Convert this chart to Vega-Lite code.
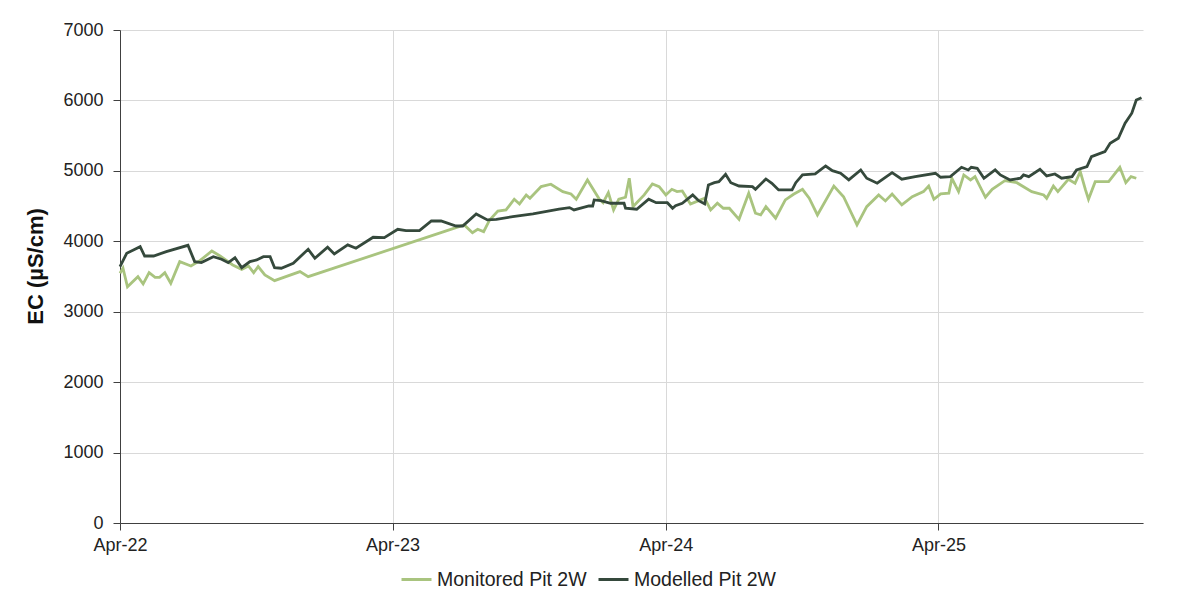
{
  "$schema": "https://vega.github.io/schema/vega-lite/v6.json",
  "width": 1023,
  "height": 493,
  "autosize": {"type": "none"},
  "padding": {"left": 120, "top": 30, "right": 35, "bottom": 78},
  "background": "white",
  "config": {
    "view": {"stroke": null},
    "font": "Liberation Sans",
    "axis": {
      "labelFont": "Liberation Sans",
      "labelFontSize": 18,
      "labelColor": "#222222",
      "domainColor": "#404040",
      "tickColor": "#404040",
      "tickSize": 7,
      "gridColor": "#d9d9d9",
      "gridWidth": 1
    },
    "legend": {
      "labelFont": "Liberation Sans",
      "labelFontSize": 19.5,
      "labelColor": "#222222"
    }
  },
  "data": {
    "values": [
      {"date": "2022-04-01", "series": "Monitored Pit 2W", "ec": 3546},
      {"date": "2022-04-05", "series": "Monitored Pit 2W", "ec": 3617},
      {"date": "2022-04-11", "series": "Monitored Pit 2W", "ec": 3355},
      {"date": "2022-04-25", "series": "Monitored Pit 2W", "ec": 3498},
      {"date": "2022-05-02", "series": "Monitored Pit 2W", "ec": 3394},
      {"date": "2022-05-10", "series": "Monitored Pit 2W", "ec": 3554},
      {"date": "2022-05-18", "series": "Monitored Pit 2W", "ec": 3489},
      {"date": "2022-05-24", "series": "Monitored Pit 2W", "ec": 3489},
      {"date": "2022-05-31", "series": "Monitored Pit 2W", "ec": 3554},
      {"date": "2022-06-08", "series": "Monitored Pit 2W", "ec": 3404},
      {"date": "2022-06-20", "series": "Monitored Pit 2W", "ec": 3711},
      {"date": "2022-07-05", "series": "Monitored Pit 2W", "ec": 3650},
      {"date": "2022-07-17", "series": "Monitored Pit 2W", "ec": 3725},
      {"date": "2022-08-02", "series": "Monitored Pit 2W", "ec": 3862},
      {"date": "2022-08-13", "series": "Monitored Pit 2W", "ec": 3791},
      {"date": "2022-08-30", "series": "Monitored Pit 2W", "ec": 3664},
      {"date": "2022-09-11", "series": "Monitored Pit 2W", "ec": 3602},
      {"date": "2022-09-20", "series": "Monitored Pit 2W", "ec": 3650},
      {"date": "2022-09-27", "series": "Monitored Pit 2W", "ec": 3554},
      {"date": "2022-10-03", "series": "Monitored Pit 2W", "ec": 3640},
      {"date": "2022-10-12", "series": "Monitored Pit 2W", "ec": 3522},
      {"date": "2022-10-25", "series": "Monitored Pit 2W", "ec": 3441},
      {"date": "2022-11-28", "series": "Monitored Pit 2W", "ec": 3569},
      {"date": "2022-12-09", "series": "Monitored Pit 2W", "ec": 3498},
      {"date": "2023-07-06", "series": "Monitored Pit 2W", "ec": 4232},
      {"date": "2023-07-17", "series": "Monitored Pit 2W", "ec": 4122},
      {"date": "2023-07-24", "series": "Monitored Pit 2W", "ec": 4170},
      {"date": "2023-08-01", "series": "Monitored Pit 2W", "ec": 4137},
      {"date": "2023-08-09", "series": "Monitored Pit 2W", "ec": 4303},
      {"date": "2023-08-20", "series": "Monitored Pit 2W", "ec": 4430},
      {"date": "2023-08-31", "series": "Monitored Pit 2W", "ec": 4445},
      {"date": "2023-09-11", "series": "Monitored Pit 2W", "ec": 4597},
      {"date": "2023-09-18", "series": "Monitored Pit 2W", "ec": 4530},
      {"date": "2023-09-27", "series": "Monitored Pit 2W", "ec": 4658},
      {"date": "2023-10-02", "series": "Monitored Pit 2W", "ec": 4611},
      {"date": "2023-10-17", "series": "Monitored Pit 2W", "ec": 4776},
      {"date": "2023-10-30", "series": "Monitored Pit 2W", "ec": 4810},
      {"date": "2023-11-15", "series": "Monitored Pit 2W", "ec": 4705},
      {"date": "2023-11-26", "series": "Monitored Pit 2W", "ec": 4672},
      {"date": "2023-12-03", "series": "Monitored Pit 2W", "ec": 4597},
      {"date": "2023-12-18", "series": "Monitored Pit 2W", "ec": 4871},
      {"date": "2024-01-03", "series": "Monitored Pit 2W", "ec": 4597},
      {"date": "2024-01-08", "series": "Monitored Pit 2W", "ec": 4548},
      {"date": "2024-01-15", "series": "Monitored Pit 2W", "ec": 4690},
      {"date": "2024-01-22", "series": "Monitored Pit 2W", "ec": 4445},
      {"date": "2024-01-29", "series": "Monitored Pit 2W", "ec": 4597},
      {"date": "2024-02-07", "series": "Monitored Pit 2W", "ec": 4625},
      {"date": "2024-02-12", "series": "Monitored Pit 2W", "ec": 4895},
      {"date": "2024-02-17", "series": "Monitored Pit 2W", "ec": 4492},
      {"date": "2024-02-22", "series": "Monitored Pit 2W", "ec": 4548},
      {"date": "2024-03-03", "series": "Monitored Pit 2W", "ec": 4658},
      {"date": "2024-03-14", "series": "Monitored Pit 2W", "ec": 4814},
      {"date": "2024-03-23", "series": "Monitored Pit 2W", "ec": 4776},
      {"date": "2024-04-01", "series": "Monitored Pit 2W", "ec": 4658},
      {"date": "2024-04-09", "series": "Monitored Pit 2W", "ec": 4738},
      {"date": "2024-04-16", "series": "Monitored Pit 2W", "ec": 4705},
      {"date": "2024-04-23", "series": "Monitored Pit 2W", "ec": 4715},
      {"date": "2024-05-04", "series": "Monitored Pit 2W", "ec": 4530},
      {"date": "2024-05-15", "series": "Monitored Pit 2W", "ec": 4577},
      {"date": "2024-05-23", "series": "Monitored Pit 2W", "ec": 4611},
      {"date": "2024-05-31", "series": "Monitored Pit 2W", "ec": 4445},
      {"date": "2024-06-09", "series": "Monitored Pit 2W", "ec": 4540},
      {"date": "2024-06-17", "series": "Monitored Pit 2W", "ec": 4469},
      {"date": "2024-06-25", "series": "Monitored Pit 2W", "ec": 4469},
      {"date": "2024-07-08", "series": "Monitored Pit 2W", "ec": 4312},
      {"date": "2024-07-21", "series": "Monitored Pit 2W", "ec": 4682},
      {"date": "2024-07-30", "series": "Monitored Pit 2W", "ec": 4398},
      {"date": "2024-08-06", "series": "Monitored Pit 2W", "ec": 4374},
      {"date": "2024-08-13", "series": "Monitored Pit 2W", "ec": 4492},
      {"date": "2024-08-26", "series": "Monitored Pit 2W", "ec": 4327},
      {"date": "2024-09-08", "series": "Monitored Pit 2W", "ec": 4587},
      {"date": "2024-09-19", "series": "Monitored Pit 2W", "ec": 4668},
      {"date": "2024-10-01", "series": "Monitored Pit 2W", "ec": 4738},
      {"date": "2024-10-10", "series": "Monitored Pit 2W", "ec": 4611},
      {"date": "2024-10-21", "series": "Monitored Pit 2W", "ec": 4374},
      {"date": "2024-11-12", "series": "Monitored Pit 2W", "ec": 4785},
      {"date": "2024-11-25", "series": "Monitored Pit 2W", "ec": 4633},
      {"date": "2024-12-13", "series": "Monitored Pit 2W", "ec": 4232},
      {"date": "2024-12-26", "series": "Monitored Pit 2W", "ec": 4492},
      {"date": "2025-01-11", "series": "Monitored Pit 2W", "ec": 4658},
      {"date": "2025-01-20", "series": "Monitored Pit 2W", "ec": 4573},
      {"date": "2025-01-29", "series": "Monitored Pit 2W", "ec": 4672},
      {"date": "2025-02-11", "series": "Monitored Pit 2W", "ec": 4516},
      {"date": "2025-02-25", "series": "Monitored Pit 2W", "ec": 4633},
      {"date": "2025-03-12", "series": "Monitored Pit 2W", "ec": 4705},
      {"date": "2025-03-19", "series": "Monitored Pit 2W", "ec": 4785},
      {"date": "2025-03-26", "series": "Monitored Pit 2W", "ec": 4597},
      {"date": "2025-04-04", "series": "Monitored Pit 2W", "ec": 4672},
      {"date": "2025-04-15", "series": "Monitored Pit 2W", "ec": 4682},
      {"date": "2025-04-19", "series": "Monitored Pit 2W", "ec": 4895},
      {"date": "2025-04-28", "series": "Monitored Pit 2W", "ec": 4705},
      {"date": "2025-05-05", "series": "Monitored Pit 2W", "ec": 4942},
      {"date": "2025-05-14", "series": "Monitored Pit 2W", "ec": 4871},
      {"date": "2025-05-20", "series": "Monitored Pit 2W", "ec": 4918},
      {"date": "2025-06-03", "series": "Monitored Pit 2W", "ec": 4625},
      {"date": "2025-06-12", "series": "Monitored Pit 2W", "ec": 4738},
      {"date": "2025-06-29", "series": "Monitored Pit 2W", "ec": 4861},
      {"date": "2025-07-15", "series": "Monitored Pit 2W", "ec": 4832},
      {"date": "2025-08-04", "series": "Monitored Pit 2W", "ec": 4705},
      {"date": "2025-08-20", "series": "Monitored Pit 2W", "ec": 4658},
      {"date": "2025-08-24", "series": "Monitored Pit 2W", "ec": 4611},
      {"date": "2025-09-02", "series": "Monitored Pit 2W", "ec": 4785},
      {"date": "2025-09-08", "series": "Monitored Pit 2W", "ec": 4705},
      {"date": "2025-09-22", "series": "Monitored Pit 2W", "ec": 4881},
      {"date": "2025-10-01", "series": "Monitored Pit 2W", "ec": 4824},
      {"date": "2025-10-08", "series": "Monitored Pit 2W", "ec": 4989},
      {"date": "2025-10-15", "series": "Monitored Pit 2W", "ec": 4729},
      {"date": "2025-10-19", "series": "Monitored Pit 2W", "ec": 4597},
      {"date": "2025-10-28", "series": "Monitored Pit 2W", "ec": 4847},
      {"date": "2025-11-15", "series": "Monitored Pit 2W", "ec": 4847},
      {"date": "2025-11-30", "series": "Monitored Pit 2W", "ec": 5051},
      {"date": "2025-12-08", "series": "Monitored Pit 2W", "ec": 4832},
      {"date": "2025-12-15", "series": "Monitored Pit 2W", "ec": 4918},
      {"date": "2025-12-22", "series": "Monitored Pit 2W", "ec": 4895},

      {"date": "2022-04-01", "series": "Modelled Pit 2W", "ec": 3640},
      {"date": "2022-04-10", "series": "Modelled Pit 2W", "ec": 3830},
      {"date": "2022-04-21", "series": "Modelled Pit 2W", "ec": 3887},
      {"date": "2022-04-28", "series": "Modelled Pit 2W", "ec": 3924},
      {"date": "2022-05-04", "series": "Modelled Pit 2W", "ec": 3791},
      {"date": "2022-05-16", "series": "Modelled Pit 2W", "ec": 3791},
      {"date": "2022-06-02", "series": "Modelled Pit 2W", "ec": 3853},
      {"date": "2022-07-01", "series": "Modelled Pit 2W", "ec": 3943},
      {"date": "2022-07-10", "series": "Modelled Pit 2W", "ec": 3711},
      {"date": "2022-07-19", "series": "Modelled Pit 2W", "ec": 3697},
      {"date": "2022-08-04", "series": "Modelled Pit 2W", "ec": 3782},
      {"date": "2022-08-15", "series": "Modelled Pit 2W", "ec": 3745},
      {"date": "2022-08-24", "series": "Modelled Pit 2W", "ec": 3697},
      {"date": "2022-09-02", "series": "Modelled Pit 2W", "ec": 3767},
      {"date": "2022-09-11", "series": "Modelled Pit 2W", "ec": 3625},
      {"date": "2022-09-22", "series": "Modelled Pit 2W", "ec": 3711},
      {"date": "2022-10-01", "series": "Modelled Pit 2W", "ec": 3735},
      {"date": "2022-10-10", "series": "Modelled Pit 2W", "ec": 3782},
      {"date": "2022-10-19", "series": "Modelled Pit 2W", "ec": 3782},
      {"date": "2022-10-25", "series": "Modelled Pit 2W", "ec": 3625},
      {"date": "2022-11-03", "series": "Modelled Pit 2W", "ec": 3617},
      {"date": "2022-11-19", "series": "Modelled Pit 2W", "ec": 3688},
      {"date": "2022-12-09", "series": "Modelled Pit 2W", "ec": 3887},
      {"date": "2022-12-18", "series": "Modelled Pit 2W", "ec": 3759},
      {"date": "2023-01-04", "series": "Modelled Pit 2W", "ec": 3915},
      {"date": "2023-01-13", "series": "Modelled Pit 2W", "ec": 3820},
      {"date": "2023-01-31", "series": "Modelled Pit 2W", "ec": 3948},
      {"date": "2023-02-11", "series": "Modelled Pit 2W", "ec": 3901},
      {"date": "2023-03-06", "series": "Modelled Pit 2W", "ec": 4057},
      {"date": "2023-03-21", "series": "Modelled Pit 2W", "ec": 4051},
      {"date": "2023-04-08", "series": "Modelled Pit 2W", "ec": 4170},
      {"date": "2023-04-19", "series": "Modelled Pit 2W", "ec": 4151},
      {"date": "2023-05-07", "series": "Modelled Pit 2W", "ec": 4151},
      {"date": "2023-05-23", "series": "Modelled Pit 2W", "ec": 4288},
      {"date": "2023-06-05", "series": "Modelled Pit 2W", "ec": 4288},
      {"date": "2023-06-25", "series": "Modelled Pit 2W", "ec": 4217},
      {"date": "2023-07-04", "series": "Modelled Pit 2W", "ec": 4217},
      {"date": "2023-07-22", "series": "Modelled Pit 2W", "ec": 4388},
      {"date": "2023-08-06", "series": "Modelled Pit 2W", "ec": 4303},
      {"date": "2023-08-18", "series": "Modelled Pit 2W", "ec": 4312},
      {"date": "2023-09-09", "series": "Modelled Pit 2W", "ec": 4350},
      {"date": "2023-10-06", "series": "Modelled Pit 2W", "ec": 4388},
      {"date": "2023-11-10", "series": "Modelled Pit 2W", "ec": 4455},
      {"date": "2023-11-24", "series": "Modelled Pit 2W", "ec": 4478},
      {"date": "2023-11-30", "series": "Modelled Pit 2W", "ec": 4445},
      {"date": "2023-12-20", "series": "Modelled Pit 2W", "ec": 4501},
      {"date": "2023-12-25", "series": "Modelled Pit 2W", "ec": 4501},
      {"date": "2023-12-27", "series": "Modelled Pit 2W", "ec": 4587},
      {"date": "2024-01-05", "series": "Modelled Pit 2W", "ec": 4577},
      {"date": "2024-01-18", "series": "Modelled Pit 2W", "ec": 4540},
      {"date": "2024-02-05", "series": "Modelled Pit 2W", "ec": 4540},
      {"date": "2024-02-07", "series": "Modelled Pit 2W", "ec": 4469},
      {"date": "2024-02-22", "series": "Modelled Pit 2W", "ec": 4455},
      {"date": "2024-03-09", "series": "Modelled Pit 2W", "ec": 4597},
      {"date": "2024-03-19", "series": "Modelled Pit 2W", "ec": 4548},
      {"date": "2024-04-03", "series": "Modelled Pit 2W", "ec": 4548},
      {"date": "2024-04-10", "series": "Modelled Pit 2W", "ec": 4469},
      {"date": "2024-04-14", "series": "Modelled Pit 2W", "ec": 4506},
      {"date": "2024-04-23", "series": "Modelled Pit 2W", "ec": 4540},
      {"date": "2024-05-07", "series": "Modelled Pit 2W", "ec": 4658},
      {"date": "2024-05-15", "series": "Modelled Pit 2W", "ec": 4577},
      {"date": "2024-05-23", "series": "Modelled Pit 2W", "ec": 4530},
      {"date": "2024-05-28", "series": "Modelled Pit 2W", "ec": 4800},
      {"date": "2024-06-05", "series": "Modelled Pit 2W", "ec": 4832},
      {"date": "2024-06-11", "series": "Modelled Pit 2W", "ec": 4847},
      {"date": "2024-06-20", "series": "Modelled Pit 2W", "ec": 4951},
      {"date": "2024-06-27", "series": "Modelled Pit 2W", "ec": 4832},
      {"date": "2024-07-08", "series": "Modelled Pit 2W", "ec": 4785},
      {"date": "2024-07-26", "series": "Modelled Pit 2W", "ec": 4776},
      {"date": "2024-07-30", "series": "Modelled Pit 2W", "ec": 4738},
      {"date": "2024-08-13", "series": "Modelled Pit 2W", "ec": 4885},
      {"date": "2024-08-21", "series": "Modelled Pit 2W", "ec": 4824},
      {"date": "2024-08-30", "series": "Modelled Pit 2W", "ec": 4729},
      {"date": "2024-09-17", "series": "Modelled Pit 2W", "ec": 4729},
      {"date": "2024-09-22", "series": "Modelled Pit 2W", "ec": 4832},
      {"date": "2024-10-01", "series": "Modelled Pit 2W", "ec": 4942},
      {"date": "2024-10-18", "series": "Modelled Pit 2W", "ec": 4956},
      {"date": "2024-11-01", "series": "Modelled Pit 2W", "ec": 5069},
      {"date": "2024-11-10", "series": "Modelled Pit 2W", "ec": 5003},
      {"date": "2024-11-21", "series": "Modelled Pit 2W", "ec": 4966},
      {"date": "2024-12-02", "series": "Modelled Pit 2W", "ec": 4871},
      {"date": "2024-12-18", "series": "Modelled Pit 2W", "ec": 5013},
      {"date": "2024-12-26", "series": "Modelled Pit 2W", "ec": 4895},
      {"date": "2025-01-09", "series": "Modelled Pit 2W", "ec": 4824},
      {"date": "2025-01-29", "series": "Modelled Pit 2W", "ec": 4975},
      {"date": "2025-02-11", "series": "Modelled Pit 2W", "ec": 4881},
      {"date": "2025-03-01", "series": "Modelled Pit 2W", "ec": 4918},
      {"date": "2025-03-28", "series": "Modelled Pit 2W", "ec": 4966},
      {"date": "2025-04-04", "series": "Modelled Pit 2W", "ec": 4909},
      {"date": "2025-04-17", "series": "Modelled Pit 2W", "ec": 4918},
      {"date": "2025-05-02", "series": "Modelled Pit 2W", "ec": 5051},
      {"date": "2025-05-11", "series": "Modelled Pit 2W", "ec": 5013},
      {"date": "2025-05-15", "series": "Modelled Pit 2W", "ec": 5051},
      {"date": "2025-05-23", "series": "Modelled Pit 2W", "ec": 5037},
      {"date": "2025-06-01", "series": "Modelled Pit 2W", "ec": 4895},
      {"date": "2025-06-16", "series": "Modelled Pit 2W", "ec": 5013},
      {"date": "2025-06-23", "series": "Modelled Pit 2W", "ec": 4942},
      {"date": "2025-07-06", "series": "Modelled Pit 2W", "ec": 4871},
      {"date": "2025-07-20", "series": "Modelled Pit 2W", "ec": 4895},
      {"date": "2025-07-24", "series": "Modelled Pit 2W", "ec": 4942},
      {"date": "2025-07-31", "series": "Modelled Pit 2W", "ec": 4918},
      {"date": "2025-08-15", "series": "Modelled Pit 2W", "ec": 5023},
      {"date": "2025-08-24", "series": "Modelled Pit 2W", "ec": 4928},
      {"date": "2025-09-04", "series": "Modelled Pit 2W", "ec": 4956},
      {"date": "2025-09-13", "series": "Modelled Pit 2W", "ec": 4895},
      {"date": "2025-09-27", "series": "Modelled Pit 2W", "ec": 4918},
      {"date": "2025-10-03", "series": "Modelled Pit 2W", "ec": 5013},
      {"date": "2025-10-17", "series": "Modelled Pit 2W", "ec": 5060},
      {"date": "2025-10-23", "series": "Modelled Pit 2W", "ec": 5202},
      {"date": "2025-11-10", "series": "Modelled Pit 2W", "ec": 5273},
      {"date": "2025-11-17", "series": "Modelled Pit 2W", "ec": 5392},
      {"date": "2025-11-28", "series": "Modelled Pit 2W", "ec": 5463},
      {"date": "2025-12-07", "series": "Modelled Pit 2W", "ec": 5676},
      {"date": "2025-12-16", "series": "Modelled Pit 2W", "ec": 5818},
      {"date": "2025-12-22", "series": "Modelled Pit 2W", "ec": 6007},
      {"date": "2025-12-29", "series": "Modelled Pit 2W", "ec": 6039}
    ]
  },
  "mark": {"type": "line", "strokeWidth": 2.8, "interpolate": "linear"},
  "encoding": {
    "x": {
      "field": "date",
      "type": "temporal",
      "scale": {"type": "utc", "domain": [{"year": 2022, "month": 4, "date": 1, "utc": true}, {"year": 2025, "month": 12, "date": 31, "utc": true}], "nice": false},
      "axis": {
        "title": null,
        "format": "%b-%y",
        "values": [
          {"year": 2022, "month": 4, "date": 1, "utc": true},
          {"year": 2023, "month": 4, "date": 1, "utc": true},
          {"year": 2024, "month": 4, "date": 1, "utc": true},
          {"year": 2025, "month": 4, "date": 1, "utc": true}
        ],
        "labelPadding": 6,
        "labelFlush": false,
        "grid": true
      }
    },
    "y": {
      "field": "ec",
      "type": "quantitative",
      "scale": {"domain": [0, 7000], "nice": false},
      "axis": {
        "title": "EC (µS/cm)",
        "titleFont": "Liberation Sans",
        "titleFontSize": 22,
        "titleFontWeight": "bold",
        "titleColor": "#111111",
        "titleAngle": -90,
        "titleAlign": "center",
        "titleBaseline": "middle",
        "titleX": -85,
        "titleY": 236,
        "values": [0, 1000, 2000, 3000, 4000, 5000, 6000, 7000],
        "format": "d",
        "labelPadding": 10,
        "grid": true
      }
    },
    "color": {
      "field": "series",
      "type": "nominal",
      "scale": {"domain": ["Monitored Pit 2W", "Modelled Pit 2W"], "range": ["#a9c47f", "#35493c"]},
      "legend": {
        "title": null,
        "orient": "none",
        "direction": "horizontal",
        "legendX": 280,
        "legendY": 533,
        "symbolType": "stroke",
        "symbolSize": 900,
        "symbolStrokeWidth": 3,
        "labelOffset": 4,
        "columnPadding": 5,
        "padding": 0
      }
    }
  }
}
